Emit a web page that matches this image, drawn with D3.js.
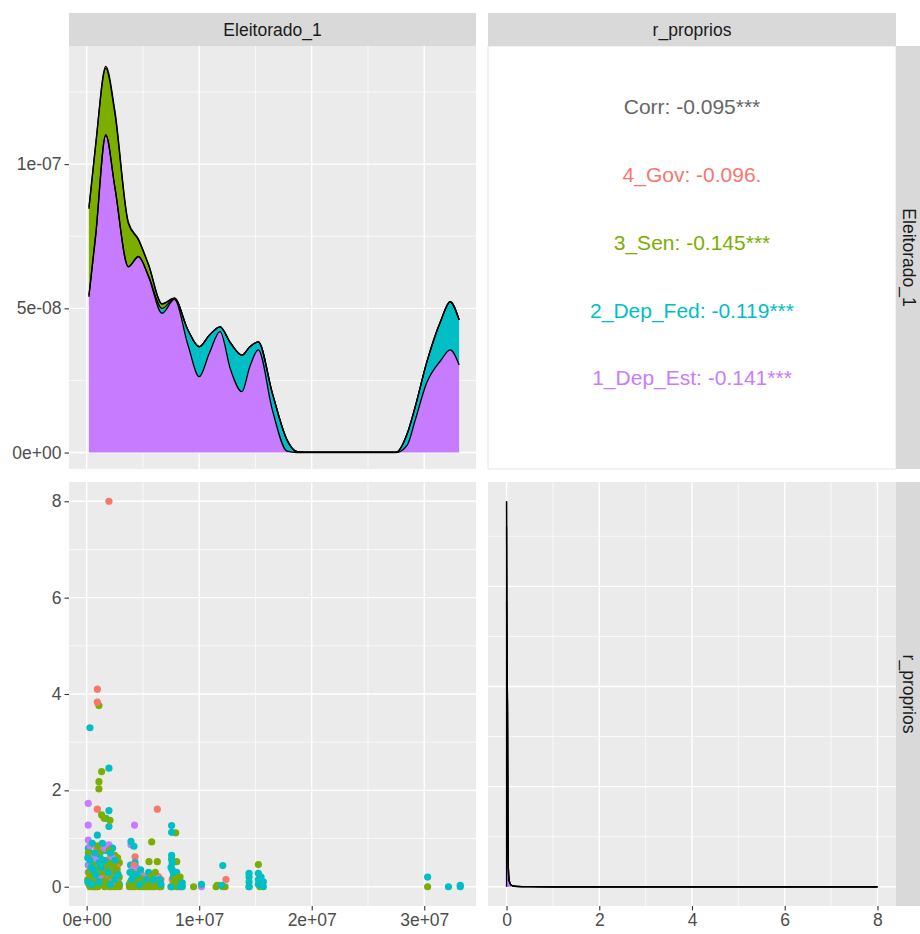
<!DOCTYPE html>
<html><head><meta charset="utf-8">
<script src="https://cdn.jsdelivr.net/npm/d3@7"></script>
<style>
body{margin:0;background:#fff;}
text{font-family:"Liberation Sans", Arial, sans-serif;}
</style>
</head><body>
<svg id="c" width="920" height="934"></svg>
<script>
// ---------------- DATA ----------------
const groups = ["4_Gov", "3_Sen", "2_Dep_Fed", "1_Dep_Est"];
const groupColors = ["#F8766D", "#7CAE00", "#00BFC4", "#C77CFF"];
const corrLabels = ["Corr: -0.095***", "4_Gov: -0.096.", "3_Sen: -0.145***", "2_Dep_Fed: -0.119***", "1_Dep_Est: -0.141***"];
const varNames = ["Eleitorado_1", "r_proprios"];

// Density of Eleitorado_1 (x in millions, layer heights in 1e-8), stacked bottom->top: Est, Fed, Sen, Gov
const eleitX  = [0.2, 0.8, 1.7, 2.5, 3.7, 4.6, 5.5, 6.7, 7.8, 9.0, 10.0, 10.9, 11.85, 12.8, 13.8, 14.5, 15.25, 16.5, 17.8, 18.7, 20, 27.5, 28.5, 29.2, 30.2, 31.5, 32.3, 33.1];
const densEst = [5.4, 7.5, 11.0, 9.2, 6.44, 6.79, 6.1, 4.83, 5.31, 3.73, 2.63, 3.44, 4.19, 2.86, 2.11, 2.98, 3.56, 1.48, 0.05, 0, 0, 0, 0.27, 1.13, 2.4, 3.21, 3.56, 3.04];
const densFed = [0.05, 0.05, 0.02, 0.02, 0.01, 0.01, 0.02, 0.17, 0.02, 0.52, 1.04, 0.63, 0.17, 0.93, 1.27, 0.69, 0.28, 0.58, 0.39, 0.03, 0.01, 0.01, 0.4, 0.46, 0.7, 1.39, 1.67, 1.56];
const densSen = [3.0, 3.1, 2.3, 2.55, 1.5, 0.57, 0.38, 0.15, 0.02, 0, 0, 0, 0, 0, 0, 0, 0, 0, 0, 0, 0, 0, 0, 0, 0, 0, 0, 0];
const densGov = [0.05, 0.05, 0.07, 0.1, 0.05, 0.03, 0.02, 0.01, 0, 0, 0, 0, 0, 0, 0, 0, 0, 0, 0, 0, 0, 0, 0, 0, 0, 0, 0, 0];

// Density of r_proprios, stacked bottom->top: Est, Fed, Sen, Gov
const rX    = [0, 0.005, 0.01, 0.02, 0.03, 0.05, 0.08, 0.12, 0.2, 0.5, 1, 2, 4, 6, 8];
const rEst  = [45, 44, 42, 35, 8, 1.5, 0.5, 0.2, 0.05, 0.01, 0, 0, 0, 0, 0];
const rFed  = [12, 8, 3, 1, 0.3, 0.1, 0.05, 0.02, 0.01, 0, 0, 0, 0, 0, 0];
const rSen  = [15, 9, 3, 1, 0.3, 0.1, 0.05, 0.02, 0.01, 0, 0, 0, 0, 0, 0];
const rGov  = [5, 3, 1, 0.3, 0.1, 0.03, 0.01, 0, 0, 0, 0, 0, 0, 0, 0];

// Scatter points [Eleitorado_1 in millions, r_proprios]
const ptsGov = [[1.98,8.0],[0.95,4.10],[0.95,3.83],[0.95,1.61],[6.28,1.61],[0.89,0.8],[4.3,0.62],[1.92,0.35],[6.37,0.21],[12.38,0.15],[0.4,0.55],[1.5,0.45],[2.2,0.3],[2.6,0.5],[1.2,0.7],[0.3,0.2],[2.8,0.1],[1.9,0.2],[4.5,0.3],[5.6,0.1],[6.6,0.15],[7.9,0.12],[0.7,0.05],[2.1,0.6],[4.0,0.05],[6.0,0.02],[8.2,0.05],[1.0,0.3],[2.4,0.0],[5.1,0.2],
  [0.6,0.3],[1.4,0.2],[1.7,0.3],[2.3,0.15],[2.7,0.4],[0.2,0.65],[4.2,0.45],[5.8,0.05],[6.5,0.0],[7.6,0.15]];
const ptsSen = [[1.09,3.76],[1.33,2.39],[1.09,2.18],[1.09,2.03],[1.33,1.49],[2.07,1.38],[1.55,1.42],[7.91,1.12],[5.78,0.93],[8.0,0.52],[6.28,0.52],[5.54,0.52],[15.26,0.46],[30.3,0.0],[9.5,0.0],[11.6,0.03],[11.5,0.0],[12.3,0.0],[12.1,0.0],[14.43,0.0],[15.4,0.0],[1.0,0.85],[1.2,0.72],[2.5,0.65],[2.75,0.6],[2.9,0.5],[2.3,0.35],[2.9,0.2],[0.2,0.3],[0.5,0.1],[0.8,0.0],[1.1,0.25],[1.4,0.05],[1.7,0.15],[2.0,0.0],[2.3,0.05],[2.6,0.0],[2.9,0.0],[0.3,0.0],[1.9,0.5],[1.6,0.4],[0.6,0.45],[3.8,0.0],[4.1,0.0],[4.4,0.1],[4.7,0.0],[4.0,0.3],[4.9,0.15],[5.2,0.0],[5.4,0.05],[5.7,0.2],[6.0,0.0],[6.3,0.05],[6.6,0.0],[6.1,0.3],[7.5,0.0],[7.8,0.1],[8.1,0.0],[8.4,0.0],[8.3,0.2],[0.15,0.7],[2.0,0.75],
  [0.1,0.15],[0.4,0.25],[0.7,0.35],[0.9,0.1],[1.2,0.45],[1.3,0.3],[1.5,0.1],[1.8,0.3],[2.1,0.25],[2.4,0.45],[2.7,0.35],[2.8,0.05],[1.0,0.0],[1.6,0.0],[2.2,0.0],[0.55,0.0],[3.9,0.1],[4.3,0.0],[4.6,0.05],[5.0,0.1],[5.5,0.0],[5.9,0.0],[6.4,0.0],[7.6,0.0],[8.0,0.0],[7.9,0.2]];
const ptsFed = [[0.29,3.30],[1.98,2.46],[1.98,1.58],[1.72,1.42],[1.98,1.25],[0.95,1.07],[0.15,0.8],[0.35,0.7],[0.55,0.6],[0.15,0.45],[0.35,0.3],[0.55,0.15],[0.8,0.5],[1.0,0.35],[1.2,0.6],[1.5,0.25],[1.8,0.45],[2.0,0.15],[2.2,0.55],[2.4,0.3],[2.7,0.1],[2.9,0.05],[0.2,0.05],[0.7,0.0],[1.3,0.1],[1.7,0.75],[0.5,0.9],[2.3,0.8],[0.9,0.2],[2.6,0.4],[1.4,0.9],[3.94,0.94],[4.2,0.84],[3.9,0.45],[4.3,0.5],[4.1,0.25],[4.5,0.1],[4.8,0.35],[3.8,0.05],[5.0,0.0],[4.6,0.2],[5.5,0.3],[5.9,0.1],[6.2,0.05],[6.5,0.15],[5.7,0.0],[7.55,1.27],[7.55,1.13],[7.55,0.65],[7.55,0.57],[7.6,0.49],[7.6,0.35],[7.7,0.2],[7.8,0.05],[8.1,0.1],[8.5,0.08],[8.0,0.3],[10.2,0.05],[12.1,0.44],[12.0,0.03],[14.43,0.28],[14.43,0.2],[14.43,0.1],[14.43,0.0],[15.26,0.28],[15.26,0.15],[15.26,0.05],[15.7,0.1],[15.7,0.0],[15.5,0.2],[30.3,0.2],[32.15,0.0],[33.2,0.03],[33.2,0.0],[8.5,0.0],
  [0.1,0.1],[0.1,0.6],[0.4,0.4],[0.6,0.35],[0.8,0.25],[1.1,0.1],[1.1,0.5],[1.3,0.4],[1.6,0.55],[1.9,0.3],[2.1,0.05],[2.5,0.15],[2.8,0.25],[0.3,0.55],[0.45,0.05],[0.75,0.7],[2.1,0.7],[2.5,0.55],[3.85,0.3],[4.0,0.15],[4.4,0.25],[4.7,0.05],[5.3,0.15],[6.0,0.15],[6.6,0.05],[7.5,0.0],[7.5,0.4],[7.7,0.3],[8.3,0.0]];
const ptsEst = [[0.14,1.73],[0.14,1.28],[0.14,0.97],[1.98,0.87],[4.25,1.28],[3.94,0.87],[10.2,0.0],[0.14,0.6],[0.14,0.3],[0.4,0.5],[0.6,0.2],[0.9,0.7],[1.1,0.4],[1.4,0.55],[1.8,0.1],[2.1,0.4],[2.4,0.15],[2.7,0.3],[0.3,0.85],[4.4,0.4],[4.6,0.25],[4.9,0.24],[4.2,0.15],[5.6,0.15],[6.4,0.1],[6.0,0.25],[7.7,0.1],[8.2,0.2],[1.6,0.8],
  [0.2,0.45],[0.5,0.3],[0.8,0.55],[1.2,0.2],[1.5,0.35],[2.0,0.25],[2.3,0.6],[2.6,0.1],[0.6,0.65],[4.1,0.35],[4.7,0.15],[5.3,0.05],[6.2,0.2]];

// Ticks
const eleitTicks = [0, 10, 20, 30];
const eleitTickLabels = ["0e+00", "1e+07", "2e+07", "3e+07"];
const eleitMinor = [5, 15, 25];
const densTicks = [0, 5, 10];
const densTickLabels = ["0e+00", "5e-08", "1e-07"];
const densMinor = [2.5, 7.5, 12.5];
const rTicks = [0, 2, 4, 6, 8];
const rMinor = [1, 3, 5, 7];
const rDensMajor = [0, 20, 40, 60];
const rDensMinor = [10, 30, 50, 70];

// ---------------- LAYOUT ----------------
const svg = d3.select("#c");
const col = [{x0: 69, x1: 476}, {x0: 488, x1: 896}];
const row = [{y0: 46, y1: 469}, {y0: 482, y1: 906}];
const stripH = 33;
const panelBg = "#EBEBEB";
const stripBg = "#D9D9D9";
const tickCol = "#333333";
const labCol = "#4D4D4D";
const fs = 17.5;

// Scales
const xE = d3.scaleLinear().domain([-1.57, 34.6]).range([col[0].x0, col[0].x1]);
const xR = d3.scaleLinear().domain([-0.4, 8.4]).range([col[1].x0, col[1].x1]);
const yDens = d3.scaleLinear().domain([-0.57, 14.097]).range([row[0].y1, row[0].y0]);
const yR = d3.scaleLinear().domain([-0.4, 8.4]).range([row[1].y1, row[1].y0]);
const yRD = d3.scaleLinear().domain([-3.85, 80.85]).range([row[1].y1, row[1].y0]);

const defs = svg.append("defs");
function clip(id, c, r) {
  defs.append("clipPath").attr("id", id).append("rect")
    .attr("x", c.x0).attr("y", r.y0).attr("width", c.x1 - c.x0).attr("height", r.y1 - r.y0);
  return "url(#" + id + ")";
}

function panel(c, r, xs, ys, xMaj, xMin, yMaj, yMin) {
  const g = svg.append("g");
  g.append("rect").attr("x", c.x0).attr("y", r.y0).attr("width", c.x1 - c.x0).attr("height", r.y1 - r.y0).attr("fill", panelBg);
  g.selectAll(".vmin").data(xMin).enter().append("line")
    .attr("x1", d => xs(d)).attr("x2", d => xs(d)).attr("y1", r.y0).attr("y2", r.y1)
    .attr("stroke", "#fff").attr("stroke-width", 0.7);
  g.selectAll(".hmin").data(yMin).enter().append("line")
    .attr("y1", d => ys(d)).attr("y2", d => ys(d)).attr("x1", c.x0).attr("x2", c.x1)
    .attr("stroke", "#fff").attr("stroke-width", 0.7);
  g.selectAll(".vmaj").data(xMaj).enter().append("line")
    .attr("x1", d => xs(d)).attr("x2", d => xs(d)).attr("y1", r.y0).attr("y2", r.y1)
    .attr("stroke", "#fff").attr("stroke-width", 1.4);
  g.selectAll(".hmaj").data(yMaj).enter().append("line")
    .attr("y1", d => ys(d)).attr("y2", d => ys(d)).attr("x1", c.x0).attr("x2", c.x1)
    .attr("stroke", "#fff").attr("stroke-width", 1.4);
  return g;
}

// ---- Top-left: stacked density of Eleitorado_1
panel(col[0], row[0], xE, yDens, eleitTicks, eleitMinor, densTicks, densMinor);
const eleitRows = eleitX.map((x, i) => ({x: x, est: densEst[i], fed: densFed[i], sen: densSen[i], gov: densGov[i]}));
const keys = ["est", "fed", "sen", "gov"];
const keyColor = {gov: groupColors[0], sen: groupColors[1], fed: groupColors[2], est: groupColors[3]};
const stackE = d3.stack().keys(keys)(eleitRows);
const gE = svg.append("g").attr("clip-path", clip("cE", col[0], row[0]));
const areaE = d3.area().x(d => xE(d.data.x)).y0(d => yDens(d[0])).y1(d => yDens(d[1])).curve(d3.curveMonotoneX);
const lineE = d3.line().x(d => xE(d.data.x)).y(d => yDens(d[1])).curve(d3.curveMonotoneX);
stackE.forEach(s => {
  gE.append("path").attr("d", areaE(s)).attr("fill", keyColor[s.key]);
});
stackE.forEach(s => {
  gE.append("path").attr("d", lineE(s)).attr("fill", "none").attr("stroke", "#000").attr("stroke-width", 1.3);
});

// ---- Top-right: correlation text panel
svg.append("rect").attr("x", col[1].x0).attr("y", row[0].y0).attr("width", col[1].x1 - col[1].x0).attr("height", row[0].y1 - row[0].y0)
  .attr("fill", "#fff").attr("stroke", "#E6E6E6").attr("stroke-width", 1);
const corrCols = ["#666666"].concat(groupColors);
const corrY = d3.scalePoint().domain(d3.range(corrLabels.length)).range([107, 378]);
svg.selectAll(".corr").data(corrLabels).enter().append("text")
  .attr("x", (col[1].x0 + col[1].x1) / 2).attr("y", (d, i) => corrY(i))
  .attr("dy", "0.35em").attr("text-anchor", "middle")
  .attr("font-size", 21).attr("fill", (d, i) => corrCols[i]).text(d => d);

// ---- Bottom-left: scatter
panel(col[0], row[1], xE, yR, eleitTicks, eleitMinor, rTicks, rMinor);
const allSets = [ptsGov, ptsSen, ptsFed, ptsEst];
const pts = [];
const maxLen = d3.max(allSets, s => s.length);
for (let i = 0; i < maxLen; i++) {
  allSets.forEach((s, gi) => { if (i < s.length) pts.push({x: s[i][0], y: s[i][1], g: gi}); });
}
const gS = svg.append("g").attr("clip-path", clip("cS", col[0], row[1]));
gS.selectAll("circle").data(pts).enter().append("circle")
  .attr("cx", d => xE(d.x)).attr("cy", d => yR(d.y)).attr("r", 3.6)
  .attr("fill", d => groupColors[d.g]);

// ---- Bottom-right: stacked density of r_proprios
panel(col[1], row[1], xR, yRD, rTicks, rMinor, rDensMajor, rDensMinor);
const rRows = rX.map((x, i) => ({x: x, est: rEst[i], fed: rFed[i], sen: rSen[i], gov: rGov[i]}));
const stackR = d3.stack().keys(keys)(rRows);
const gR = svg.append("g").attr("clip-path", clip("cR", col[1], row[1]));
const areaR = d3.area().x(d => xR(d.data.x)).y0(d => yRD(d[0])).y1(d => yRD(d[1])).curve(d3.curveMonotoneX);
const lineR = d3.line().x(d => xR(d.data.x)).y(d => yRD(d[1])).curve(d3.curveMonotoneX);
stackR.forEach(s => { gR.append("path").attr("d", areaR(s)).attr("fill", keyColor[s.key]); });
stackR.forEach(s => { gR.append("path").attr("d", lineR(s)).attr("fill", "none").attr("stroke", "#000").attr("stroke-width", 1.3); });
gR.append("line").attr("x1", xR(0)).attr("x2", xR(0)).attr("y1", yRD(0)).attr("y2", yRD(d3.sum([rEst[0], rFed[0], rSen[0], rGov[0]])))
  .attr("stroke", "#000").attr("stroke-width", 1.3);

// ---------------- STRIPS ----------------
function topStrip(c, label) {
  svg.append("rect").attr("x", c.x0).attr("y", row[0].y0 - stripH).attr("width", c.x1 - c.x0).attr("height", stripH).attr("fill", stripBg);
  svg.append("text").attr("x", (c.x0 + c.x1) / 2).attr("y", row[0].y0 - stripH / 2).attr("dy", "0.35em")
    .attr("text-anchor", "middle").attr("font-size", fs).attr("fill", "#1A1A1A").text(label);
}
function rightStrip(r, label) {
  const x0 = col[1].x1;
  svg.append("rect").attr("x", x0).attr("y", r.y0).attr("width", stripH).attr("height", r.y1 - r.y0).attr("fill", stripBg);
  const cx = x0 + 13.5, cy = (r.y0 + r.y1) / 2;
  svg.append("text").attr("transform", `translate(${cx},${cy}) rotate(90)`).attr("dy", "0.35em")
    .attr("text-anchor", "middle").attr("font-size", fs).attr("fill", "#1A1A1A").text(label);
}
topStrip(col[0], varNames[0]);
topStrip(col[1], varNames[1]);
rightStrip(row[0], varNames[0]);
rightStrip(row[1], varNames[1]);

// ---------------- AXES ----------------
function styleAxis(g) {
  g.select(".domain").remove();
  g.selectAll(".tick line").attr("stroke", tickCol).attr("stroke-width", 1.1);
  g.selectAll(".tick text").attr("fill", labCol).attr("font-size", fs).attr("font-family", '"Liberation Sans", Arial, sans-serif');
}
svg.append("g").attr("transform", `translate(${col[0].x0},0)`)
  .call(d3.axisLeft(yDens).tickValues(densTicks).tickFormat((d, i) => densTickLabels[i]).tickSize(4.5).tickPadding(3))
  .call(styleAxis);
svg.append("g").attr("transform", `translate(${col[0].x0},0)`)
  .call(d3.axisLeft(yR).tickValues(rTicks).tickFormat(d3.format("d")).tickSize(4.5).tickPadding(3))
  .call(styleAxis);
svg.append("g").attr("transform", `translate(0,${row[1].y1})`)
  .call(d3.axisBottom(xE).tickValues(eleitTicks).tickFormat((d, i) => eleitTickLabels[i]).tickSize(4.5).tickPadding(3))
  .call(styleAxis);
svg.append("g").attr("transform", `translate(0,${row[1].y1})`)
  .call(d3.axisBottom(xR).tickValues(rTicks).tickFormat(d3.format("d")).tickSize(4.5).tickPadding(3))
  .call(styleAxis);
</script>
</body></html>
